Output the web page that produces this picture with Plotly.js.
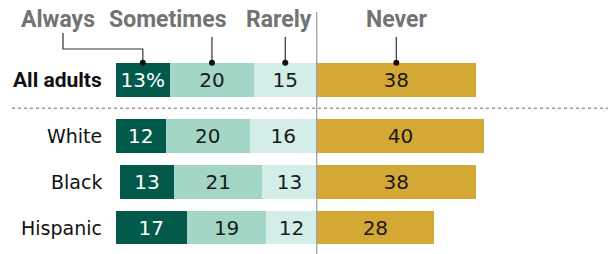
<!DOCTYPE html>
<html>
<head>
<meta charset="utf-8">
<script src="https://cdn.plot.ly/plotly-3.0.1.min.js"></script>
<style>html,body{margin:0;padding:0;background:#fff}#chart{width:608px;height:254px}</style>
</head>
<body>
<div id="chart"></div>
<script>
const groups = ["All adults", "White", "Black", "Hispanic"];
const always = [13, 12, 13, 17];
const sometimes = [20, 20, 21, 19];
const rarely = [15, 16, 13, 12];
const never = [38, 40, 38, 28];
const seriesNames = ["Always", "Sometimes", "Rarely", "Never"];

const W = 608, H = 254;
const x0px = 316.7, pxPerUnit = 4.19;
const rowPx = 45.9, firstRowPx = 79.7, gapExtra = 0.22;
const barW = 0.74;

const pos = groups.map((g, i) => i + (i > 0 ? gapExtra : 0));
const yr = [pos[pos.length-1] + (H - (firstRowPx + pos[pos.length-1]*rowPx)) / rowPx, -firstRowPx / rowPx];
const xr = [-x0px / pxPerUnit, (W - x0px) / pxPerUnit];
const py = p => 1 - p / H;   // pixel -> paper y
const pxx = p => p / W;      // pixel -> paper x

const numFont = {family: "'DejaVu Sans', sans-serif", size: 20};
const colors = {Always: "#03594a", Sometimes: "#a4d6c8", Rarely: "#d3ede8", Never: "#d4a835"};

function barTrace(name, vals, sign, textColor, textArr) {
  return {
    type: "bar", orientation: "h", name: name,
    x: vals.map(v => sign * v), y: pos,
    width: barW,
    marker: {color: colors[name], line: {width: 0}},
    text: textArr || vals.map(String),
    textposition: "inside", insidetextanchor: "middle",
    textfont: Object.assign({}, numFont, {color: textColor}),
    hoverinfo: "skip", cliponaxis: false
  };
}

const alwaysText = always.map((v, i) => i === 0 ? v + "%" : String(v));
const traces = [
  barTrace("Rarely", rarely, -1, "#1a1a1a"),
  barTrace("Sometimes", sometimes, -1, "#1a1a1a"),
  barTrace("Always", always, -1, "#ffffff", alwaysText),
  barTrace("Never", never, 1, "#1a1a1a")
];

const cAlways = -(rarely[0] + sometimes[0] + always[0] / 2);
const cSome = -(rarely[0] + sometimes[0] / 2);
const cRare = -(rarely[0] / 2);
const cNever = never[0] / 2;
const barTop = pos[0] - barW / 2;

const headerY = py(20);
const headerFont = {family: "Roboto, 'Liberation Sans', sans-serif", size: 23, color: "#737373"};
const annotations = [
  {text: "<b>Always</b>", x: pxx(58)},
  {text: "<b>Sometimes</b>", x: pxx(168)},
  {text: "<b>Rarely</b>", x: pxx(279)},
  {text: "<b>Never</b>", x: pxx(396)}
].map(a => Object.assign(a, {xref: "paper", yref: "paper", xanchor: "center", y: headerY, yanchor: "middle", showarrow: false, font: headerFont}));

groups.forEach((g, i) => {
  annotations.push({
    text: i === 0 ? "<b>" + g + "</b>" : g,
    xref: "paper", yref: "y", x: pxx(104), y: pos[i], xanchor: "right", yanchor: "middle",
    showarrow: false,
    font: i === 0 ? {family: "Roboto, 'Liberation Sans', sans-serif", size: 21, color: "#111"}
                  : {family: "'DejaVu Sans', sans-serif", size: 19, color: "#111"}
  });
});

const lineC = "#333";
const yHeadBottom = -firstRowPx / rowPx + 37 / rowPx;
const yElbow = -firstRowPx / rowPx + 49 / rowPx;
const yAlwaysTop = -firstRowPx / rowPx + 33 / rowPx;
const shapes = [
  {type: "line", xref: "x", yref: "paper", x0: 0, x1: 0, y0: 0, y1: py(12), line: {color: "#9a9a9a", width: 1.2}},
  {type: "line", xref: "paper", yref: "paper", x0: pxx(12), x1: 1, y0: py(108.3), y1: py(108.3), line: {color: "#9a9a9a", width: 1.5, dash: "dot"}},
  {type: "path", xref: "x", yref: "y",
   path: `M ${(63 - x0px) / pxPerUnit} ${yAlwaysTop} L ${(63 - x0px) / pxPerUnit} ${yElbow} L ${cAlways} ${yElbow} L ${cAlways} ${barTop}`,
   line: {color: lineC, width: 1.2}},
];
[cSome, cRare, cNever].forEach(c => {
  shapes.push({type: "line", xref: "x", yref: "y", x0: c, x1: c, y0: yHeadBottom, y1: barTop, line: {color: lineC, width: 1.2}});
});
[cAlways, cSome, cRare, cNever].forEach(c => {
  const r = 3 / pxPerUnit, ry = 3 / rowPx;
  shapes.push({type: "circle", xref: "x", yref: "y", x0: c - r, x1: c + r, y0: barTop - ry, y1: barTop + ry, fillcolor: "#111", line: {width: 0}});
});

const layout = {
  width: W, height: H,
  margin: {l: 0, r: 0, t: 0, b: 0},
  paper_bgcolor: "#fff", plot_bgcolor: "#fff",
  barmode: "relative", bargap: 0,
  showlegend: false,
  xaxis: {range: xr, visible: false, fixedrange: true},
  yaxis: {range: yr, visible: false, fixedrange: true},
  annotations: annotations,
  shapes: shapes
};

Plotly.newPlot("chart", traces, layout, {displayModeBar: false, staticPlot: true});
</script>
</body>
</html>
